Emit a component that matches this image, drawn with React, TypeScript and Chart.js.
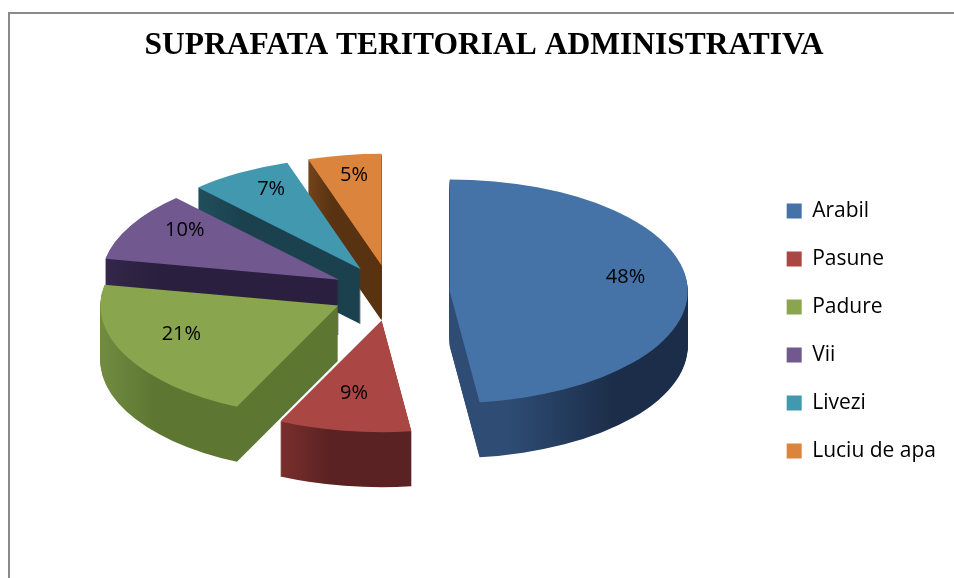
import React, { useEffect, useRef } from 'react';
import { Chart, registerables } from 'chart.js';

Chart.register(...registerables);

const TITLE = 'SUPRAFATA TERITORIAL ADMINISTRATIVA';
const categories = ['Arabil', 'Pasune', 'Padure', 'Vii', 'Livezi', 'Luciu de apa'];
const values = [48, 9, 21, 10, 7, 5];
const labelsText = ['48%', '9%', '21%', '10%', '7%', '5%'];
const topColors = ['#4572A7', '#AA4643', '#89A54E', '#71588F', '#4198AF', '#DB843D'];
const sideLight = ['#2e4c74', '#80312f', '#86a04f', '#3d2f55', '#265766', '#7d4b1d'];
const sideDark = ['#1b2d48', '#5a2222', '#5d7632', '#2a1f3e', '#1b414e', '#583211'];

const CANVAS_W = 944;
const CANVAS_H = 564;
const RADIUS = 238;
const EXPLODE = 59;
const K = 0.47;
const DEPTH = 55;
const SCREEN_CY = 279;
const LABEL_R = 0.74;
const LABEL_LIFT = 9;
const FONT = "'Open Sans'";

function squashOrigin(cy: number) {
  return (SCREEN_CY - cy * K) / (1 - K);
}

const pie3d = {
  id: 'pie3d',
  beforeDatasetsDraw(chart: any) {
    const ctx = chart.ctx as CanvasRenderingContext2D;
    const meta = chart.getDatasetMeta(0);
    const arcs = meta.data as any[];
    if (!arcs.length) return;
    const y0 = squashOrigin(arcs[0].y);
    const shift = (arc: any) => {
      const mid = (arc.startAngle + arc.endAngle) / 2;
      return { dx: Math.cos(mid) * EXPLODE, dy: Math.sin(mid) * EXPLODE, mid };
    };
    ctx.save();
    ctx.translate(0, y0);
    ctx.scale(1, K);
    ctx.translate(0, -y0);
    const fills = arcs.map((arc, i) => {
      const { dx } = shift(arc);
      const ax = arc.x + dx;
      let minX = ax;
      let maxX = ax;
      const steps = 40;
      for (let s = 0; s <= steps; s++) {
        const a = arc.startAngle + ((arc.endAngle - arc.startAngle) * s) / steps;
        const px = ax + Math.cos(a) * arc.outerRadius;
        minX = Math.min(minX, px);
        maxX = Math.max(maxX, px);
      }
      const g = ctx.createLinearGradient(minX, 0, maxX, 0);
      g.addColorStop(0, sideLight[i]);
      g.addColorStop(0.45, sideDark[i]);
      g.addColorStop(1, sideDark[i]);
      return g;
    });
    // extruded sides
    for (let d = DEPTH; d >= 1; d--) {
      arcs.forEach((arc, i) => {
        const { dx, dy } = shift(arc);
        ctx.save();
        ctx.translate(dx, dy + d / K);
        const proxy = Object.create(arc);
        proxy.options = { ...arc.options, backgroundColor: fills[i], borderWidth: 0 };
        proxy.draw(ctx);
        ctx.restore();
      });
    }
    // top faces
    arcs.forEach((arc) => {
      const { dx, dy } = shift(arc);
      ctx.save();
      ctx.translate(dx, dy);
      arc.draw(ctx);
      ctx.restore();
    });
    ctx.restore();
    // percentage labels
    ctx.save();
    ctx.font = `20px ${FONT}`;
    ctx.fillStyle = '#000';
    ctx.textAlign = 'center';
    ctx.textBaseline = 'middle';
    arcs.forEach((arc, i) => {
      const { mid } = shift(arc);
      const r = EXPLODE + arc.outerRadius * LABEL_R;
      const px = arc.x + Math.cos(mid) * r;
      const py = arc.y + Math.sin(mid) * r;
      ctx.fillText(labelsText[i], px, y0 + (py - y0) * K - LABEL_LIFT);
    });
    ctx.restore();
  },
  beforeDatasetDraw() {
    return false;
  },
};

export default function App() {
  const ref = useRef<HTMLCanvasElement | null>(null);
  useEffect(() => {
    if (!ref.current) return;
    const chart = new Chart(ref.current, {
      type: 'pie',
      data: {
        labels: categories,
        datasets: [
          {
            data: values,
            backgroundColor: topColors,
            borderWidth: 0,
            offset: 0,
            hoverOffset: 0,
          },
        ],
      },
      options: {
        responsive: false,
        animation: false,
        devicePixelRatio: 1,
        radius: RADIUS,
        layout: { padding: { left: 12, right: 8, top: 0, bottom: 0 } },
        plugins: {
          title: {
            display: true,
            text: TITLE,
            color: '#000',
            font: { family: 'Liberation Serif', size: 31.5, weight: 'bold' },
            padding: { top: 13, bottom: 19 },
          },
          legend: {
            position: 'right',
            align: 'center',
            fullSize: false,
            labels: {
              boxWidth: 15,
              boxHeight: 15,
              padding: 27,
              color: '#000',
              font: { family: 'Open Sans', size: 21 },
            },
          },
          tooltip: { enabled: false },
        },
      } as any,
      plugins: [pie3d],
    });
    return () => chart.destroy();
  }, []);
  return (
    <div
      style={{
        position: 'fixed',
        left: 8,
        top: 12,
        right: 0,
        bottom: 0,
        borderLeft: '2px solid #8a8a8a',
        borderTop: '2px solid #8a8a8a',
        background: '#fff',
        overflow: 'hidden',
      }}
    >
      <canvas ref={ref} width={CANVAS_W} height={CANVAS_H} style={{ display: 'block' }} />
    </div>
  );
}
